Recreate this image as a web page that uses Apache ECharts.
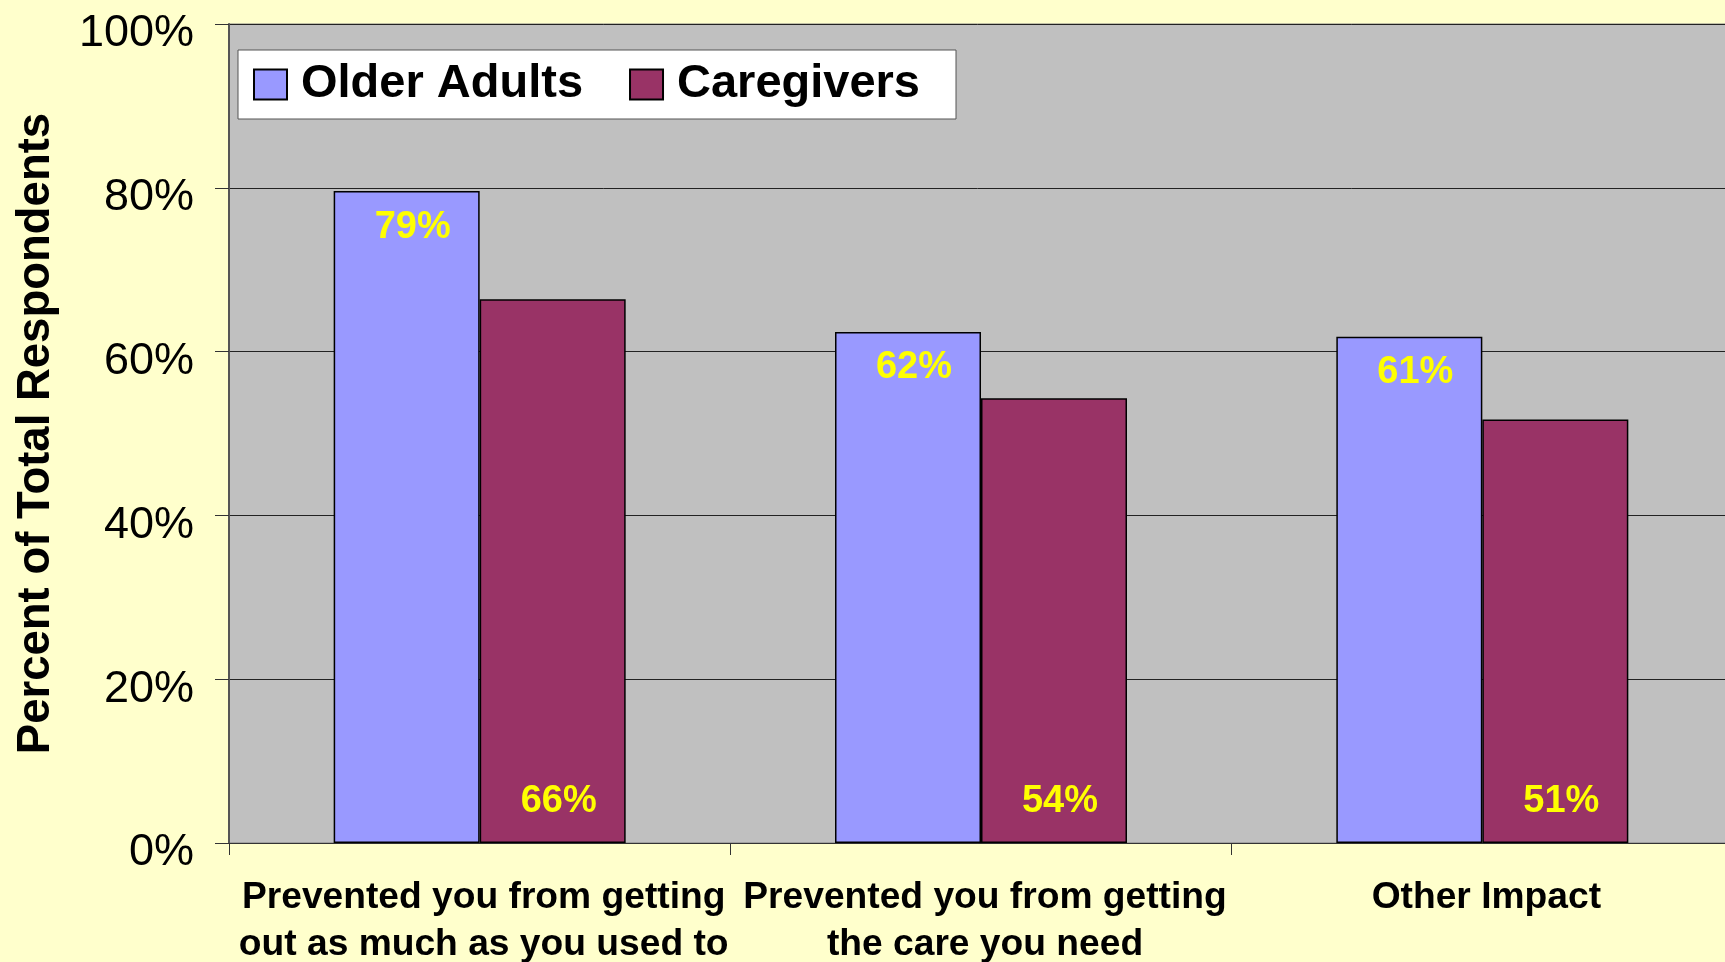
<!DOCTYPE html>
<html>
<head>
<meta charset="utf-8">
<script src="https://cdn.jsdelivr.net/npm/echarts@6/dist/echarts.min.js"></script>
<style>
  html, body { margin: 0; padding: 0; background: #FFFFCC; }
  #chart { width: 1725px; height: 962px; }
</style>
</head>
<body>
<div id="chart"></div>
<script>
  // values (percent)
  var categories = [
    "Prevented you from getting\nout as much as you used to",
    "Prevented you from getting\nthe care you need",
    "Other Impact"
  ];
  var olderAdults = [79.6, 62.4, 61.8];
  var caregivers = [66.4, 54.3, 51.7];
  var yTicks = [0, 20, 40, 60, 80, 100];

  var font = "'Liberation Sans', Arial, sans-serif";

  var pctLabel = function(p) {
    return Math.floor(p.value) + "%";
  };

  var chart = echarts.init(document.getElementById("chart"));
  var options = {
    backgroundColor: "#FFFFCC",
    animation: false,
    textStyle: { fontFamily: font },
    grid: {
      left: 229,
      top: 24,
      bottom: 119,
      width: 1504,
      outerBoundsMode: "none",
      containLabel: false,
      show: true,
      backgroundColor: "#C0C0C0",
      borderColor: "#808080",
      borderWidth: 1
    },
    legend: {
      left: 238,
      top: 50,
      orient: "horizontal",
      backgroundColor: "#FFFFFF",
      borderColor: "#555555",
      borderWidth: 1,
      padding: [11, 36, 11, 15],
      itemWidth: 33,
      itemHeight: 30,
      itemGap: 46,
      textStyle: {
        fontFamily: font, fontSize: 47, fontWeight: "bold", color: "#000",
        padding: [0, 0, 0, 9]
      },
      data: [
        { name: "Older Adults", icon: "rect" },
        { name: "Caregivers", icon: "rect" }
      ]
    },
    xAxis: {
      type: "category",
      data: categories,
      axisLine: { lineStyle: { color: "#333", width: 1 } },
      axisTick: { show: true, length: 12, lineStyle: { color: "#333" } },
      axisLabel: {
        interval: 0,
        margin: 31,
        padding: [0, 0, 0, 8],
        fontFamily: font,
        fontSize: 37.2,
        fontWeight: "bold",
        lineHeight: 47,
        color: "#000"
      }
    },
    yAxis: {
      type: "value",
      min: yTicks[0],
      max: yTicks[yTicks.length - 1],
      interval: 20,
      name: "Percent of Total Respondents",
      nameLocation: "middle",
      nameGap: 170,
      nameTextStyle: { fontFamily: font, fontSize: 45.5, fontWeight: "bold", color: "#000" },
      axisLine: { show: true, lineStyle: { color: "#555", width: 2 } },
      axisTick: { show: true, length: 14, lineStyle: { color: "#333" } },
      axisLabel: {
        margin: 35,
        fontFamily: font,
        fontSize: 45,
        color: "#000",
        verticalAlign: "top",
        lineHeight: 20,
        formatter: "{value}%"
      },
      splitLine: { lineStyle: { color: "#222", width: 1 } }
    },
    series: [
      {
        name: "Older Adults",
        type: "bar",
        data: olderAdults,
        barWidth: 146,
        barGap: "0%",
        itemStyle: { color: "#9999FF", borderColor: "#000", borderWidth: 1.5 },
        label: {
          show: true,
          position: "insideTop",
          distance: 17,
          offset: [6, 0],
          fontFamily: font,
          fontSize: 38,
          fontWeight: "bold",
          color: "#FFFF00",
          formatter: pctLabel
        }
      },
      {
        name: "Caregivers",
        type: "bar",
        data: caregivers,
        barWidth: 146,
        barGap: "0%",
        itemStyle: { color: "#993366", borderColor: "#000", borderWidth: 1.5 },
        label: {
          show: true,
          position: "insideBottom",
          distance: 22,
          offset: [6, 0],
          fontFamily: font,
          fontSize: 38,
          fontWeight: "bold",
          color: "#FFFF00",
          formatter: pctLabel
        }
      }
    ]
  };
  chart.setOption(options);
</script>
</body>
</html>
